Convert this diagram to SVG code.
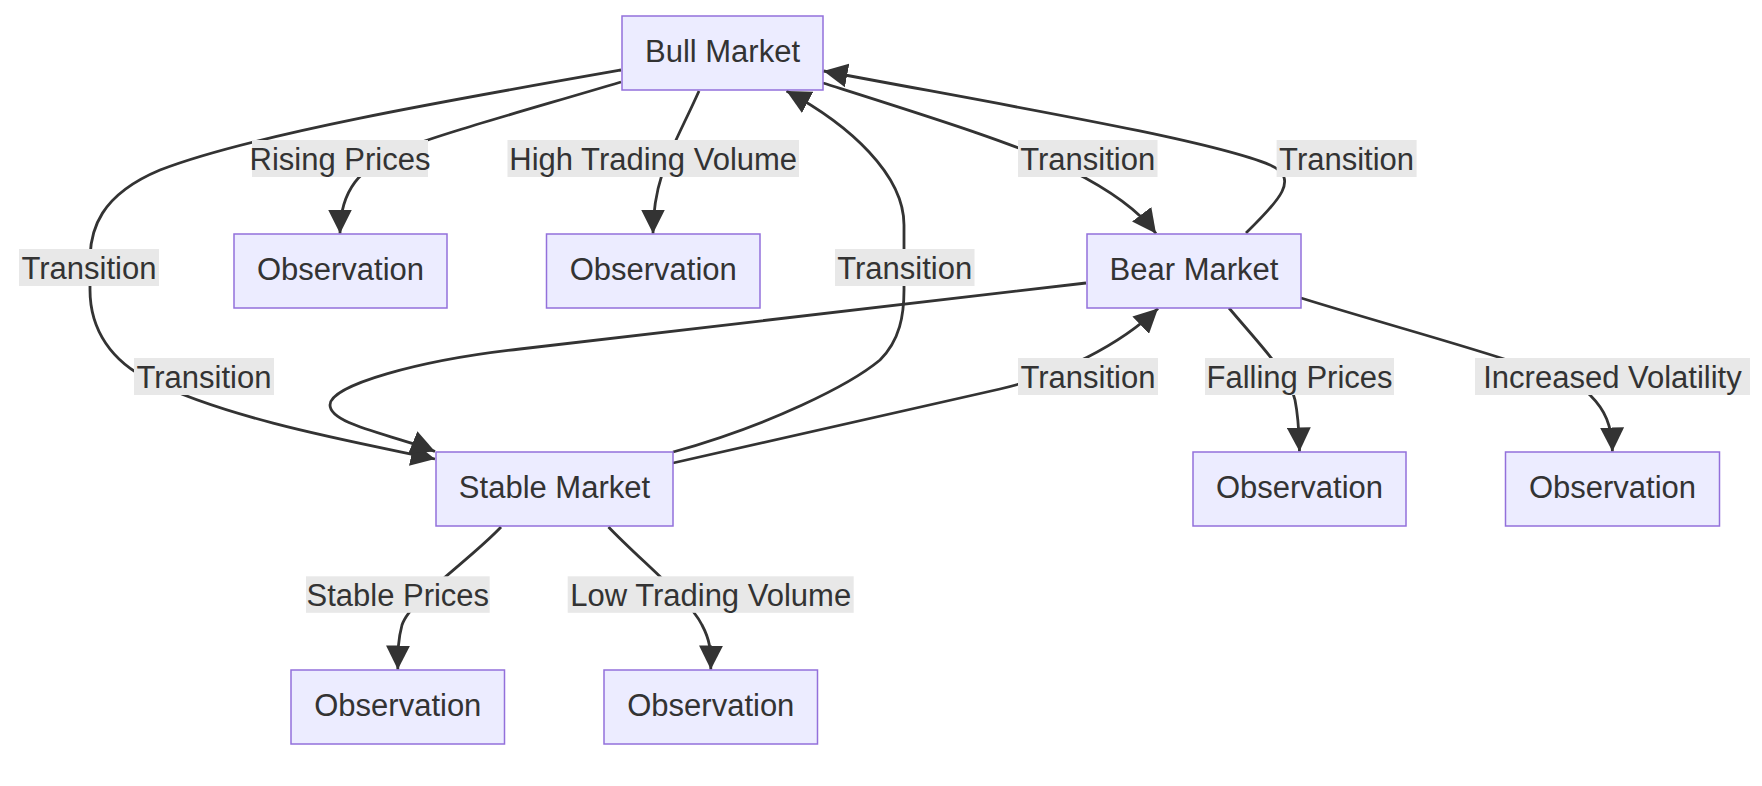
<svg xmlns="http://www.w3.org/2000/svg" width="1762" height="786" viewBox="0 0 1762 786">
<style>
.node rect{fill:#ECECFF;stroke:#9370DB;stroke-width:1.5}
.node text{font-family:"Liberation Sans",Arial,sans-serif;font-size:31px;fill:#333;text-anchor:middle}
.edge{fill:none;stroke:#333;stroke-width:2.8;marker-end:url(#arrow)}
.elabel rect{fill:#e8e8e8}
.elabel text{font-family:"Liberation Sans",Arial,sans-serif;font-size:31px;fill:#333;text-anchor:middle}
</style>
<defs>
<marker id="arrow" viewBox="0 0 10 10" refX="10" refY="5" markerUnits="userSpaceOnUse" markerWidth="24" markerHeight="24" orient="auto">
<path d="M0,0 L10,5 L0,10 z" fill="#333"/>
</marker>
</defs>
<rect width="1762" height="786" fill="#fff"/>
<g id="connectors">
<path id="e-bull-obs1" class="edge" d="M621,82 C520,112 440,134 400,150 C360,168 340,190 340,233.5"/>
<path id="e-bull-obs2" class="edge" d="M699,91 C675,145 653,175 653,233.5"/>
<path id="e-bull-bear" class="edge" d="M823,83 C930,117 1020,145 1070,170 C1110,190 1140,212 1156,233.5"/>
<path id="e-bear-bull" class="edge" d="M1246,233 C1280,200 1300,178 1270,165 C1210,140 1020,108 823.5,71"/>
<path id="e-bull-stable" class="edge" d="M621,70 C450,100 250,135 160,170 C100,195 90,230 90,260 L90,290 C90,330 112,362 150,380 C230,420 360,443 435,459"/>
<path id="e-stable-bull" class="edge" d="M673,452 C770,425 850,385 880,360 C900,340 904,315 904,290 L904,225 C904,175 850,125 786.5,91"/>
<path id="e-bear-stable" class="edge" d="M1086,283 L520,349 C420,360 330,385 330,405 C330,425 395,435 435,451.5"/>
<path id="e-stable-bear" class="edge" d="M673,463 L1000,389 C1060,375 1120,345 1158,308.5"/>
<path id="e-bear-obs3" class="edge" d="M1229,308 C1260,345 1290,375 1295,400 C1299,420 1299,435 1299.5,451.5"/>
<path id="e-bear-obs4" class="edge" d="M1301,298 C1420,335 1560,370 1590,395 C1605,410 1612,425 1612.4,451.5"/>
<path id="e-stable-obs5" class="edge" d="M501,527 C470,560 410,600 402,625 C398,640 398,650 397.8,669.5"/>
<path id="e-stable-obs6" class="edge" d="M608.5,527 C640,560 690,600 702,625 C710,640 711,650 710.8,669.5"/>
</g>
<g id="edge-labels">
<g class="elabel"><rect x="252" y="140" width="176" height="37"/><text x="340" y="170">Rising Prices</text></g>
<g class="elabel"><rect x="507.5" y="140" width="291.5" height="37"/><text x="653.2" y="170">High Trading Volume</text></g>
<g class="elabel"><rect x="1018" y="140" width="139.5" height="37"/><text x="1087.7" y="170">Transition</text></g>
<g class="elabel"><rect x="1276.6" y="140" width="140" height="37"/><text x="1346.6" y="170">Transition</text></g>
<g class="elabel"><rect x="19" y="249" width="140" height="37"/><text x="89" y="279">Transition</text></g>
<g class="elabel"><rect x="835" y="249" width="139.5" height="37"/><text x="904.7" y="279">Transition</text></g>
<g class="elabel"><rect x="134" y="358" width="140" height="37"/><text x="204" y="388">Transition</text></g>
<g class="elabel"><rect x="1018" y="358" width="140" height="37"/><text x="1088" y="388">Transition</text></g>
<g class="elabel"><rect x="1205" y="358" width="189" height="37"/><text x="1299.5" y="388">Falling Prices</text></g>
<g class="elabel"><rect x="1475" y="358" width="275" height="37"/><text x="1612.5" y="388">Increased Volatility</text></g>
<g class="elabel"><rect x="306" y="576.3" width="183.7" height="36.5"/><text x="397.8" y="606">Stable Prices</text></g>
<g class="elabel"><rect x="567.7" y="576.3" width="286" height="36.5"/><text x="710.7" y="606">Low Trading Volume</text></g>
</g>
<g id="node-bull" class="node"><rect x="622" y="16" width="201" height="74"/><text x="722.5" y="61.5">Bull Market</text></g>
<g id="node-obs1" class="node"><rect x="234" y="234" width="213" height="74"/><text x="340.5" y="279.5">Observation</text></g>
<g id="node-obs2" class="node"><rect x="546.5" y="234" width="213.5" height="74"/><text x="653.2" y="279.5">Observation</text></g>
<g id="node-bear" class="node"><rect x="1087" y="234" width="214" height="74"/><text x="1194" y="279.5">Bear Market</text></g>
<g id="node-stable" class="node"><rect x="436" y="452" width="237" height="74"/><text x="554.5" y="497.5">Stable Market</text></g>
<g id="node-obs3" class="node"><rect x="1193" y="452" width="213" height="74"/><text x="1299.5" y="497.5">Observation</text></g>
<g id="node-obs4" class="node"><rect x="1505.5" y="452" width="214" height="74"/><text x="1612.5" y="497.5">Observation</text></g>
<g id="node-obs5" class="node"><rect x="291" y="670" width="213.5" height="74"/><text x="397.8" y="715.5">Observation</text></g>
<g id="node-obs6" class="node"><rect x="604" y="670" width="213.5" height="74"/><text x="710.8" y="715.5">Observation</text></g>
</svg>
